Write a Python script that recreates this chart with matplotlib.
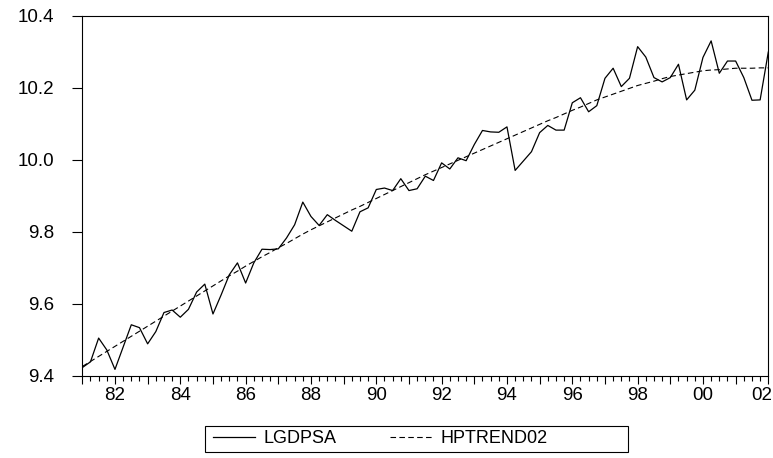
import matplotlib
matplotlib.use("Agg")
import matplotlib.pyplot as plt
import matplotlib.transforms as mtransforms
from matplotlib.patches import Rectangle
from matplotlib.ticker import FixedLocator, FormatStrFormatter

plt.rcParams['font.family'] = ['Liberation Sans', 'DejaVu Sans']

# Quarterly observations 1981Q1 .. 2002Q1
start_year = 1981
lgdpsa = [9.422, 9.438, 9.504, 9.471, 9.417, 9.479, 9.541, 9.533, 9.488, 9.522,
          9.575, 9.582, 9.562, 9.584, 9.632, 9.654, 9.571, 9.624, 9.680, 9.713,
          9.657, 9.713, 9.751, 9.750, 9.752, 9.782, 9.819, 9.882, 9.842, 9.817,
          9.847, 9.831, 9.816, 9.801, 9.855, 9.866, 9.917, 9.921, 9.914, 9.947,
          9.914, 9.919, 9.954, 9.942, 9.991, 9.974, 10.005, 9.997, 10.042, 10.081,
          10.077, 10.076, 10.091, 9.970, 9.996, 10.022, 10.075, 10.095, 10.082, 10.082,
          10.158, 10.172, 10.133, 10.150, 10.226, 10.254, 10.203, 10.226, 10.314, 10.285,
          10.228, 10.216, 10.228, 10.265, 10.166, 10.193, 10.284, 10.330, 10.240, 10.274,
          10.274, 10.228, 10.165, 10.166, 10.299]
hptrend02 = [9.425, 9.439, 9.453, 9.467, 9.481, 9.495, 9.509, 9.523, 9.537, 9.551,
             9.565, 9.579, 9.593, 9.607, 9.621, 9.635, 9.649, 9.663, 9.677, 9.690,
             9.704, 9.717, 9.730, 9.742, 9.755, 9.767, 9.780, 9.793, 9.805, 9.816,
             9.827, 9.838, 9.849, 9.860, 9.870, 9.881, 9.892, 9.903, 9.914, 9.925,
             9.936, 9.947, 9.958, 9.968, 9.978, 9.988, 9.998, 10.008, 10.018, 10.028,
             10.038, 10.048, 10.058, 10.068, 10.078, 10.088, 10.098, 10.108, 10.117, 10.127,
             10.137, 10.146, 10.156, 10.166, 10.174, 10.182, 10.190, 10.198, 10.206, 10.212,
             10.218, 10.225, 10.231, 10.235, 10.239, 10.243, 10.247, 10.249, 10.250, 10.252,
             10.254, 10.254, 10.254, 10.255, 10.255]
series_names = ["LGDPSA", "HPTREND02"]
y_ticks = [9.4, 9.6, 9.8, 10.0, 10.2, 10.4]
year_ticks = list(range(1981, 2003))
year_labels = [("%02d" % (y % 100)) if y % 2 == 0 else "" for y in year_ticks]

t = [start_year + q / 4.0 for q in range(len(lgdpsa))]

W, H = 773, 458
fig = plt.figure(figsize=(W / 100, H / 100), dpi=100)
ax = fig.add_axes([82.3 / W, 1 - 375.5 / H, (768.3 - 82.3) / W, (375.5 - 15.7) / H])

l1, = ax.plot(t, lgdpsa, color='black', lw=0.9, label=series_names[0])
l2, = ax.plot(t, hptrend02, color='black', lw=0.8, dashes=(5.0, 3.0),
              label=series_names[1])

ax.set_xlim(t[0], t[-1])
ax.set_ylim(9.4, 10.4)

ax.set_yticks(y_ticks)
ax.yaxis.set_major_formatter(FormatStrFormatter('%.1f'))
ax.set_xticks(year_ticks)
ax.set_xticklabels(year_labels)
ax.xaxis.set_minor_locator(FixedLocator([start_year + q / 4.0 for q in range(len(lgdpsa))]))

ax.tick_params(axis='y', which='major', direction='out', length=7.2, width=0.8,
               pad=13.2, labelsize=13.5, left=True, right=False)
ax.tick_params(axis='x', which='major', direction='out', length=5.8, width=0.8,
               pad=2.5, labelsize=13.5, bottom=True, top=False)
ax.tick_params(axis='x', which='minor', direction='out', length=3.6, width=0.8,
               bottom=True, top=False)

for s in ax.spines.values():
    s.set_linewidth(0.8)
    s.set_color('black')

# last tick label nudged inside figure like the original
labels = ax.get_xticklabels()
last = labels[-1]
last.set_horizontalalignment('right')
last.set_transform(last.get_transform() + mtransforms.ScaledTranslation(4 / 100, 0, fig.dpi_scale_trans))

# legend
leg = fig.legend(handles=[l1, l2], labels=series_names, ncol=2, loc='center left',
                 bbox_to_anchor=(213 / W, 1 - 438.5 / H), frameon=False,
                 borderpad=0, borderaxespad=0, handlelength=2.35, handletextpad=0.42,
                 columnspacing=3.0, fontsize=13)
fig.add_artist(Rectangle((205 / W, 1 - 451.5 / H), (628 - 205) / W, (451.5 - 425.5) / H,
                         transform=fig.transFigure, fill=False, edgecolor='black', lw=0.8))

fig.savefig('out.png', dpi=100)
